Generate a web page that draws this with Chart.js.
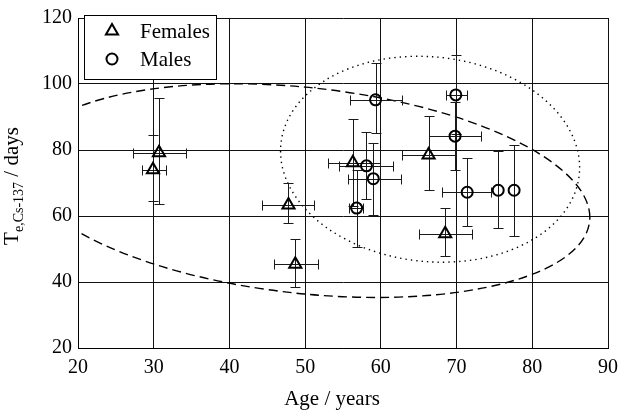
<!DOCTYPE html>
<html>
<head>
<meta charset="utf-8">
<script src="https://cdn.jsdelivr.net/npm/chart.js@4.4.0/dist/chart.umd.min.js"></script>
<style>
  html, body { margin: 0; padding: 0; background: #fff; }
  #wrap { width: 626px; height: 413px; }
</style>
</head>
<body>
<div id="wrap"><canvas id="chart"></canvas></div>
<script>
// data
const femaleAge     = [30.7, 29.9, 47.8, 48.7, 56.3, 66.3, 68.5];
const femaleAgeLow  = [27.2, 28.5, 44.3, 45.9, 53.0, 62.8, 65.0];
const femaleAgeHigh = [34.2, 31.6, 51.2, 51.7, 59.9, 69.9, 72.0];
const femaleTe      = [79.2, 74.0, 63.3, 45.4, 76.1, 78.5, 54.6];
const femaleTeLow   = [63.6, 64.5, 57.9, 38.5, 63.0, 67.8, 47.8];
const femaleTeHigh  = [95.8, 84.5, 69.9, 53.1, 89.3, 90.4, 62.4];

const maleAge     = [56.8, 58.1, 59.0, 59.3, 69.9, 69.8, 71.4, 75.5, 77.6];
const maleAgeLow  = [55.8, 54.5, 55.6, 55.9, 68.6, 66.3, 68.1, 75.5, 77.6];
const maleAgeHigh = [57.7, 61.6, 62.7, 62.8, 71.4, 73.2, 74.6, 75.5, 77.6];
const maleTe      = [62.4, 75.2, 71.3, 95.2, 96.7, 84.2, 67.2, 67.8, 67.8];
const maleTeLow   = [50.7, 65.1, 60.3, 85.1, 84.8, 74.0, 57.0, 56.4, 54.0];
const maleTeHigh  = [74.0, 85.4, 82.1, 106.3, 108.7, 94.4, 77.6, 79.7, 81.5];

// ellipses: centre x, centre y, half width, half height, tilt
const femaleEllipse = [50.0, 67.7, 37.6, 31.35, -8.1];
const maleEllipse   = [66.5, 77.2, 19.75, 31.1, -2.5];

const xTicks = [20, 30, 40, 50, 60, 70, 80, 90];
const yTicks = [20, 40, 60, 80, 100, 120];

const FONT = "'Liberation Serif', 'DejaVu Serif', serif";

function toPoints(xs, ys) {
    return xs.map((v, i) => ({ x: v, y: ys[i] }));
}

// snap 1px lines onto the pixel grid
const snap = v => Math.round(v) + 0.5;

// error bars
const errorBars = {
    id: 'errorBars',
    beforeDatasetsDraw(chart) {
        const ctx = chart.ctx;
        const xs = chart.scales.x, ys = chart.scales.y;
        const cap = 5;
        ctx.save();
        ctx.strokeStyle = '#1a1a1a';
        ctx.lineWidth = 1;
        chart.data.datasets.forEach(ds => {
            ds.data.forEach((p, i) => {
                const px = snap(xs.getPixelForValue(p.x)), py = snap(ys.getPixelForValue(p.y));
                const x0 = snap(xs.getPixelForValue(ds.xLow[i])), x1 = snap(xs.getPixelForValue(ds.xHigh[i]));
                const y0 = snap(ys.getPixelForValue(ds.yLow[i])), y1 = snap(ys.getPixelForValue(ds.yHigh[i]));
                ctx.beginPath();
                if (x1 - x0 > 1) {
                    ctx.moveTo(x0, py); ctx.lineTo(x1, py);
                    ctx.moveTo(x0, py - cap); ctx.lineTo(x0, py + cap);
                    ctx.moveTo(x1, py - cap); ctx.lineTo(x1, py + cap);
                }
                if (y0 - y1 > 1) {
                    ctx.moveTo(px, y0); ctx.lineTo(px, y1);
                    ctx.moveTo(px - cap, y0); ctx.lineTo(px + cap, y0);
                    ctx.moveTo(px - cap, y1); ctx.lineTo(px + cap, y1);
                }
                ctx.stroke();
            });
        });
        ctx.restore();
    }
};

// tilted ellipses, drawn as a transformed unit circle
function strokeEllipse(chart, el, dash, width) {
    const { ctx, chartArea: ca } = chart;
    const xs = chart.scales.x, ys = chart.scales.y;
    const sx = xs.getPixelForValue(1) - xs.getPixelForValue(0);
    const sy = ys.getPixelForValue(1) - ys.getPixelForValue(0);
    ctx.save();
    ctx.beginPath();
    ctx.rect(ca.left, ca.top, ca.right - ca.left, ca.bottom - ca.top);
    ctx.clip();
    ctx.beginPath();
    ctx.save();
    ctx.transform(el[2] * sx, el[4] * sy, 0, el[3] * sy, xs.getPixelForValue(el[0]), ys.getPixelForValue(el[1]));
    ctx.arc(0, 0, 1, 0, Math.PI * 2);
    ctx.restore();
    ctx.setLineDash(dash);
    ctx.lineWidth = width;
    ctx.strokeStyle = '#000';
    ctx.stroke();
    ctx.restore();
}

const ellipses = {
    id: 'ellipses',
    beforeDatasetsDraw(chart) {
        strokeEllipse(chart, femaleEllipse, [9, 5], 1.4);
        strokeEllipse(chart, maleEllipse, [1.4, 4], 1.4);
    }
};

// legend box, axis titles
const decorations = {
    id: 'decorations',
    afterDraw(chart) {
        const ctx = chart.ctx;
        ctx.save();
        // legend
        ctx.fillStyle = '#fff';
        ctx.fillRect(84, 15, 132, 64);
        ctx.strokeStyle = '#000';
        ctx.lineWidth = 1;
        ctx.strokeRect(84.5, 15.5, 132, 64);
        const rows = [31, 59];
        chart.data.datasets.forEach((ds, i) => {
            ctx.fillStyle = 'rgba(0,0,0,0)';
            ctx.strokeStyle = '#000';
            ctx.lineWidth = 2;
            Chart.helpers.drawPoint(ctx, {
                pointStyle: ds.pointStyle, radius: ds.pointRadius, borderWidth: 2
            }, 112, rows[i]);
            ctx.fillStyle = '#000';
            ctx.font = '21px ' + FONT;
            ctx.textBaseline = 'alphabetic';
            ctx.textAlign = 'left';
            ctx.fillText(ds.label, 140, rows[i] + 7);
        });

        // x title
        ctx.fillStyle = '#000';
        ctx.font = '21px ' + FONT;
        ctx.textAlign = 'center';
        ctx.fillText('Age / years', 332, 405);

        // y title with subscript
        ctx.translate(18, 186);
        ctx.rotate(-Math.PI / 2);
        ctx.textAlign = 'left';
        const main = '21px ' + FONT, sub = '14px ' + FONT;
        ctx.font = main; const wT = ctx.measureText('T').width;
        ctx.font = sub; const wS = ctx.measureText('e,Cs-137').width;
        ctx.font = main; const wD = ctx.measureText(' / days').width;
        let x = -(wT + wS + wD) / 2;
        ctx.font = main; ctx.fillText('T', x, 0); x += wT;
        ctx.font = sub; ctx.fillText('e,Cs-137', x, 5); x += wS;
        ctx.font = main; ctx.fillText(' / days', x, 0);
        ctx.restore();
    }
};

function drawChart() {
    new Chart(document.getElementById('chart'), {
        type: 'scatter',
        data: {
            datasets: [{
                label: 'Females',
                data: toPoints(femaleAge, femaleTe),
                xLow: femaleAgeLow, xHigh: femaleAgeHigh,
                yLow: femaleTeLow, yHigh: femaleTeHigh,
                pointStyle: 'triangle',
                pointRadius: 7,
                borderColor: '#000',
                backgroundColor: 'rgba(0,0,0,0)',
                borderWidth: 2
            }, {
                label: 'Males',
                data: toPoints(maleAge, maleTe),
                xLow: maleAgeLow, xHigh: maleAgeHigh,
                yLow: maleTeLow, yHigh: maleTeHigh,
                pointStyle: 'circle',
                pointRadius: 5.5,
                borderColor: '#000',
                backgroundColor: 'rgba(0,0,0,0)',
                borderWidth: 2
            }]
        },
        options: {
            responsive: true,
            maintainAspectRatio: false,
            animation: false,
            events: [],
            layout: { padding: { top: 13, right: 10, left: 0, bottom: 0 } },
            plugins: {
                legend: { display: false },
                tooltip: { enabled: false }
            },
            scales: {
                x: {
                    type: 'linear',
                    min: 20, max: 90,
                    afterFit(scale) { scale.height = 65; },
                    afterBuildTicks(scale) { scale.ticks = xTicks.map(v => ({ value: v })); },
                    grid: { color: '#111', lineWidth: 1, drawTicks: false },
                    border: { color: '#000', width: 1 },
                    ticks: { color: '#000', padding: 8, font: { family: FONT, size: 20 } }
                },
                y: {
                    type: 'linear',
                    min: 20, max: 120,
                    afterFit(scale) { scale.width = 78; },
                    afterBuildTicks(scale) { scale.ticks = yTicks.map(v => ({ value: v })); },
                    grid: { color: '#111', lineWidth: 1, drawTicks: false },
                    border: { color: '#000', width: 1 },
                    ticks: { color: '#000', padding: 6, font: { family: FONT, size: 20 } }
                }
            }
        },
        plugins: [ellipses, errorBars, decorations]
    });
}

// make sure the serif face is ready before the canvas uses it
Promise.all([
    document.fonts.load("21px 'Liberation Serif'"),
    document.fonts.load("14px 'Liberation Serif'")
]).then(drawChart, drawChart);
</script>
</body>
</html>
